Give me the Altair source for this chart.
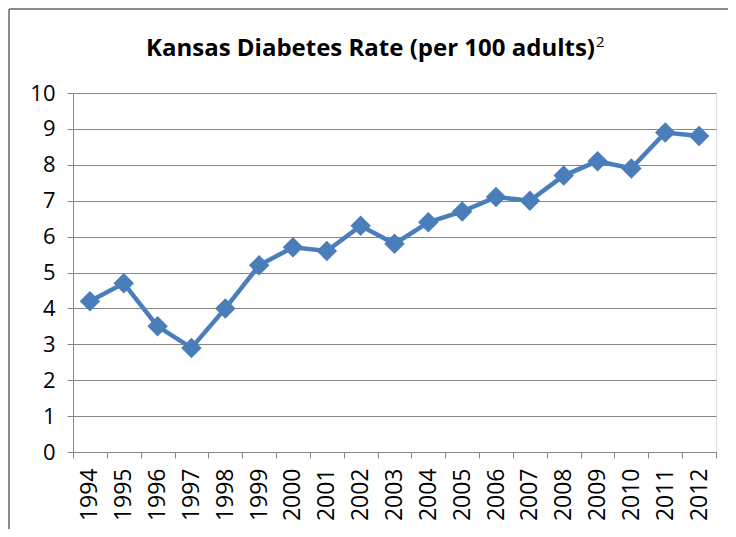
import altair as alt
import pandas as pd

years = [str(y) for y in range(1994, 2013)]
rates = [4.2, 4.7, 3.5, 2.9, 4.0, 5.2, 5.7, 5.6, 6.3, 5.8, 6.4, 6.7, 7.1, 7.0, 7.7, 8.1, 7.9, 8.9, 8.8]
title_text = "Kansas Diabetes Rate (per 100 adults)"
title_sup = "2"

df = pd.DataFrame({"year": years, "rate": rates})
color = "#4A7EBB"
font = "Open Sans"

x = alt.X("year:O", sort=years, title=None,
          scale=alt.Scale(paddingInner=0, paddingOuter=0),
          axis=alt.Axis(labelAngle=270, labelAlign="right", labelBaseline="middle",
                        labelFont=font, labelFontSize=23, labelColor="#000",
                        labelPadding=10, tickBand="extent", tickSize=6, tickColor="#868686",
                        domainColor="#868686", grid=False))
y = alt.Y("rate:Q", title=None,
          scale=alt.Scale(domain=[0, 10], nice=False, zero=True),
          axis=alt.Axis(values=list(range(0, 11)), labelFont=font, labelFontSize=22,
                        labelColor="#000", labelPadding=12, tickSize=6, tickColor="#868686",
                        domainColor="#868686", gridColor="#868686", gridWidth=1.2))

base = alt.Chart(df)
line = base.mark_line(color=color, strokeWidth=4.5).encode(x=x, y=y)
pts = base.mark_point(shape="diamond", filled=True, size=420, color=color, opacity=1).encode(x=x, y=y)

title = alt.Chart(pd.DataFrame({"t": [title_text]})).mark_text(
    font=font, fontSize=24, fontWeight="bold", color="#000", align="right", baseline="alphabetic"
).encode(text="t:N", x=alt.value(522), y=alt.value(-37))
sup = alt.Chart(pd.DataFrame({"t": [title_sup]})).mark_text(
    font=font, fontSize=15, color="#000", align="left", baseline="alphabetic"
).encode(text="t:N", x=alt.value(523), y=alt.value(-46))

frame_top = alt.Chart(pd.DataFrame({"a": [0]})).mark_rule(color="#8c8c8c", strokeWidth=2).encode(
    x=alt.value(-64), x2=alt.value(665), y=alt.value(-84))
frame_left = alt.Chart(pd.DataFrame({"a": [0]})).mark_rule(color="#8c8c8c", strokeWidth=2).encode(
    x=alt.value(-64), y=alt.value(-84), y2=alt.value(460))

chart = alt.layer(line, pts, title, sup, frame_top, frame_left).properties(
    width=643, height=359,
    autosize=alt.AutoSizeParams(type="none"),
    padding={"left": 65, "top": 85, "right": 12, "bottom": 77},
).configure_view(stroke=None).configure(background="white")

chart.save("out.html", embed_options={"renderer": "svg", "actions": False})
